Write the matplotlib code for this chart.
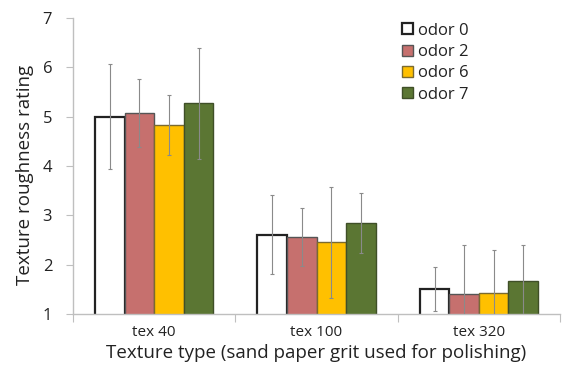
import numpy as np
import matplotlib.pyplot as plt

plt.rcParams['font.family'] = ['Open Sans', 'DejaVu Sans']

categories = ['tex 40', 'tex 100', 'tex 320']
series = ['odor 0', 'odor 2', 'odor 6', 'odor 7']
means = [
    [5.00, 2.61, 1.51],
    [5.08, 2.56, 1.41],
    [4.83, 2.45, 1.43],
    [5.27, 2.84, 1.66],
]
sds = [
    [1.07, 0.80, 0.45],
    [0.69, 0.58, 0.98],
    [0.61, 1.12, 0.87],
    [1.13, 0.61, 0.73],
]
colors = ['#FFFFFF', '#C6706E', '#FFC000', '#5B7633']
edges = ['#222222', '#555555', '#7a6a30', '#3f4f28']

fig = plt.figure(figsize=(5.63, 3.78), dpi=100)
ax = fig.add_axes([0.1297, 0.1693, 0.865, 0.783])

x = np.arange(len(categories))
w = 0.182
for i, name in enumerate(series):
    pos = x + (i - 1.5) * w
    ax.bar(pos, means[i], w, bottom=0, color=colors[i], edgecolor=edges[i],
           linewidth=1.6 if i == 0 else 1.0, label=name, zorder=2)
    ax.errorbar(pos, means[i], yerr=sds[i], fmt='none', ecolor='#8a8a8a',
                elinewidth=0.8, capsize=1.5, capthick=0.8, zorder=3)

ax.set_xlim(-0.5, 2.5)
ax.set_ylim(1, 7)
ax.set_yticks(range(1, 8))
ax.set_xticks([-0.5, 0.5, 1.5, 2.5])
ax.set_xticklabels([])
ax.set_xticks(x, minor=True)
ax.set_xticklabels(categories, minor=True)
ax.tick_params(axis='x', which='minor', length=0, pad=8, labelsize=11, colors='#222222')
ax.tick_params(axis='x', which='major', length=6, color='#bfbfbf', direction='out')
ax.tick_params(axis='y', length=5, labelsize=12, colors='#222222', pad=10)
ax.tick_params(axis='y', color='#bfbfbf')

for s in ['top', 'right']:
    ax.spines[s].set_visible(False)
for s in ['left', 'bottom']:
    ax.spines[s].set_color('#bfbfbf')
    ax.spines[s].set_linewidth(1.0)

ax.set_xlabel('Texture type (sand paper grit used for polishing)', fontsize=13.5, color='#222222', labelpad=3)
ax.set_ylabel('Texture roughness rating', fontsize=13.5, color='#222222')
ax.yaxis.set_label_coords(-0.08, 0.47)

leg = ax.legend(loc='upper left', bbox_to_anchor=(0.645, 1.035), frameon=False, fontsize=12,
                handlelength=0.65, handleheight=0.65, handletextpad=0.3, labelspacing=0.32)
for t in leg.get_texts():
    t.set_color('#222222')

fig.savefig('out.png', dpi=100)
